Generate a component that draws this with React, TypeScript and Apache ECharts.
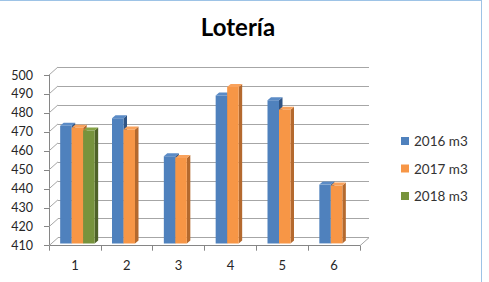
import React, { useEffect, useRef } from "react";
import * as echarts from "echarts";

const categories = ["1", "2", "3", "4", "5", "6"];
const seriesNames = ["2016 m3", "2017 m3", "2018 m3"];
const values2016 = [472, 476, 456, 488, 485.5, 441];
const values2017 = [471, 470, 455, 492.5, 480.5, 440.5];
const values2018: (number | null)[] = [469.5, null, null, null, null, null];
const yMin = 410;
const yMax = 500;
const yStep = 10;

const frontColors = ["#4f81bd", "#f79646", "#77933c"];
const sideColors = ["#2f5485", "#b4692e", "#4f6228"];
const topColors = ["#5b8bc6", "#f9a25c", "#86a446"];

const BAR_W = 11.5;
const DX = 3.5;
const DY = 3;
const SHIFT_X = 2.5;
const SHIFT_Y = 2.3;

function barRenderer(si: number) {
  return (params: any, api: any) => {
    const cat = api.value(0);
    const v = api.value(1);
    const top = api.coord([cat, v]);
    const base = api.coord([cat, yMin]);
    const x = top[0] - 17.25 + SHIFT_X + si * BAR_W;
    const yT = top[1] - SHIFT_Y;
    const yB = base[1] - SHIFT_Y;
    return {
      type: "group",
      children: [
        {
          type: "polygon",
          shape: { points: [[x + BAR_W, yT], [x + BAR_W + DX, yT - DY], [x + BAR_W + DX, yB - DY], [x + BAR_W, yB]] },
          style: { fill: sideColors[si] },
        },
        {
          type: "polygon",
          shape: { points: [[x, yT], [x + DX, yT - DY], [x + BAR_W + DX, yT - DY], [x + BAR_W, yT]] },
          style: { fill: topColors[si] },
        },
        {
          type: "rect",
          shape: { x, y: yT, width: BAR_W, height: yB - yT },
          style: { fill: frontColors[si] },
        },
      ],
    };
  };
}

export default function App() {
  const ref = useRef<HTMLDivElement>(null);
  useEffect(() => {
    const chart = echarts.init(ref.current!, null, { renderer: "svg" });
    const allSeries = [values2016, values2017, values2018];
    const ticks: number[] = [];
    for (let t = yMin; t <= yMax; t += yStep) ticks.push(t);
    const font = "Lato";
    chart.setOption({
      animation: false,
      backgroundColor: "#ffffff",
      title: {
        text: "Lotería",
        left: 238,
        top: 14,
        padding: 0,
        textAlign: "center",
        textStyle: { fontFamily: font, fontWeight: "bold", fontSize: 24, color: "#000" },
      },
      legend: {
        orient: "vertical",
        left: 401,
        top: 134,
        padding: 0,
        itemWidth: 8,
        itemHeight: 8,
        itemGap: 13.5,
        textStyle: { fontFamily: font, fontSize: 13.5, color: "#333" },
        data: seriesNames.map((n, i) => ({ name: n, icon: "rect", itemStyle: { color: frontColors[i] } })),
      },
      grid: [
        { left: 49, top: 75, width: 311, height: 170.7 },
        { left: 58, top: 67, width: 311, height: 170.7 },
      ],
      xAxis: [
        {
          type: "category",
          gridIndex: 0,
          data: categories,
          boundaryGap: true,
          axisLine: { lineStyle: { color: "#868686" } },
          axisTick: { show: true, length: 5, lineStyle: { color: "#868686" } },
          axisLabel: { fontFamily: font, fontSize: 13, color: "#262626", margin: 13 },
        },
        {
          type: "category",
          gridIndex: 1,
          data: categories,
          show: false,
        },
      ],
      yAxis: [
        {
          type: "value",
          gridIndex: 0,
          min: yMin,
          max: yMax,
          interval: yStep,
          axisLine: { show: true, lineStyle: { color: "#868686" } },
          axisTick: { show: true, length: 5, lineStyle: { color: "#868686" } },
          splitLine: { show: false },
          axisLabel: { fontFamily: font, fontSize: 12.5, color: "#262626", margin: 16 },
        },
        {
          type: "value",
          gridIndex: 1,
          min: yMin,
          max: yMax,
          interval: yStep,
          axisLine: { show: false },
          axisTick: { show: false },
          axisLabel: { show: false },
          splitLine: { show: true, lineStyle: { color: "#a6a6a6", width: 1 } },
        },
      ],
      series: [
        {
          type: "custom",
          xAxisIndex: 0,
          yAxisIndex: 0,
          silent: true,
          data: ticks.map((t) => [0, t]),
          renderItem: (params: any, api: any) => {
            const cs = params.coordSys;
            const p = api.coord([0, api.value(1)]);
            return {
              type: "line",
              shape: { x1: cs.x, y1: p[1], x2: cs.x + 9, y2: p[1] - 8 },
              style: { stroke: "#a6a6a6", lineWidth: 1 },
            };
          },
        },
        {
          type: "custom",
          xAxisIndex: 0,
          yAxisIndex: 0,
          silent: true,
          data: [[5, yMin]],
          renderItem: (params: any, api: any) => {
            const cs = params.coordSys;
            const p = api.coord([5, yMin]);
            return {
              type: "line",
              shape: { x1: cs.x + cs.width, y1: p[1], x2: cs.x + cs.width + 9, y2: p[1] - 8 },
              style: { stroke: "#a6a6a6", lineWidth: 1 },
            };
          },
        },
        ...allSeries.map((vals, si) => ({
          type: "custom",
          name: seriesNames[si],
          xAxisIndex: 0,
          yAxisIndex: 0,
          itemStyle: { color: frontColors[si] },
          encode: { x: 0, y: 1 },
          data: vals
            .map((v, i) => (v == null ? null : [i, v]))
            .filter((d) => d !== null),
          renderItem: barRenderer(si),
        })),
      ],
      graphic: [
        { type: "line", shape: { x1: 0, y1: 0.5, x2: 482, y2: 0.5 }, style: { stroke: "#9dc3e6", lineWidth: 1 } },
        { type: "line", shape: { x1: 481.5, y1: 0, x2: 481.5, y2: 282 }, style: { stroke: "#9dc3e6", lineWidth: 1 } },
      ],
    });
    return () => chart.dispose();
  }, []);
  return (
    <div
      ref={ref}
      style={{ position: "fixed", left: 0, top: 0, width: 489, height: 282 }}
    />
  );
}
